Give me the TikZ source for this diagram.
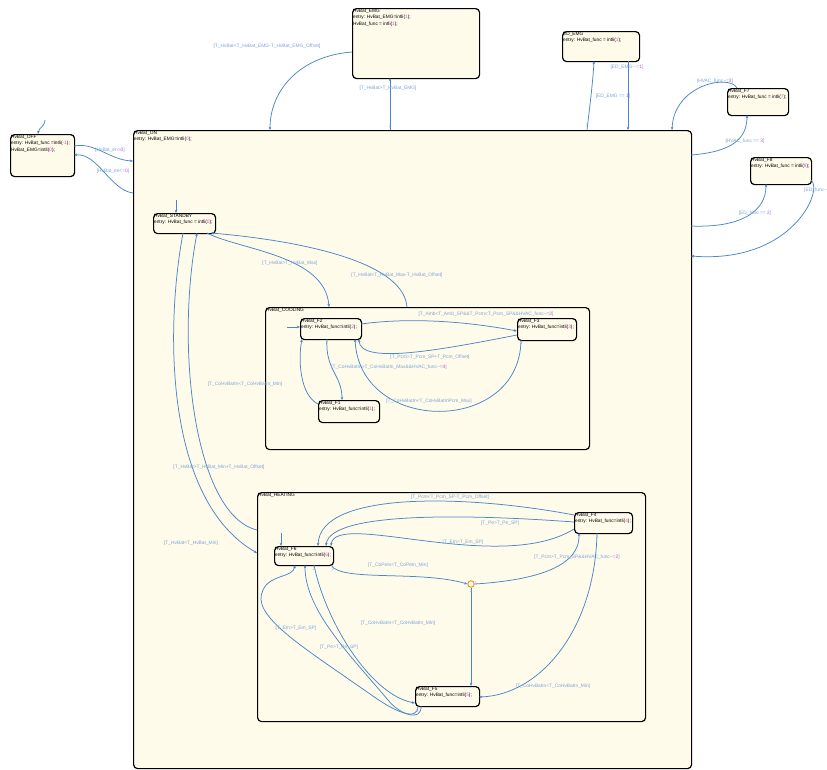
\documentclass[tikz,border=0pt]{standalone}
\usepackage{fontspec}
\setmainfont{Liberation Sans}
\usetikzlibrary{arrows.meta,calc}
\definecolor{stfill}{HTML}{FFFBEA}
\definecolor{trline}{HTML}{4A86C8}
\definecolor{trlab}{HTML}{7AA4DC}
\definecolor{mgc}{HTML}{E040E0}
\definecolor{jnc}{HTML}{E08A10}
\newcommand\mg[1]{\textcolor{mgc}{#1}}
\newcommand\tl{\textasciitilde}
\tikzset{
 statebox/.style={draw=black, fill=stfill, rounded corners=4pt, line width=1.2pt, inner sep=0pt, anchor=north west},
 stext/.style={anchor=north west, align=left, inner sep=0.9pt, font=\fontsize{4.8}{6.3}\selectfont, text=black},
 tr/.style={draw=trline, line width=0.75pt, -{Stealth[length=3.2pt,width=2.6pt]}},
 tlab/.style={font=\fontsize{4.85}{5.5}\selectfont, text=trlab, inner sep=0pt},
 onum/.style={font=\fontsize{4}{4}\selectfont, text=trlab, inner sep=0pt},
 junc/.style={circle, draw=jnc, fill=stfill, line width=0.8pt, minimum size=6.5pt, inner sep=0pt},
}
\begin{document}
\begin{tikzpicture}[x=1pt,y=-1pt]
\fill[white] (0,0) rectangle (827,769);
\useasboundingbox (0,0) rectangle (827,769);

% ---------- states ----------
\node[statebox, minimum width=558pt, minimum height=638pt] (on) at (133,130) {};
\node[stext] (ont) at (on.north west) {HvBat\_ON\\entry: HvBat\_EMG=intli(\mg{0});};

\node[statebox, minimum width=64pt, minimum height=42pt] (off) at (10,134) {};
\node[stext] (offt) at (off.north west) {HvBat\_OFF\\entry: HvBat\_func =intli(\mg{-1});\\ HvBat\_EMG=intli(\mg{0});};

\node[statebox, minimum width=127pt, minimum height=70pt] (emg) at (352,8) {};
\node[stext] (emgt) at (emg.north west) {HvBat\_EMG\\entry: HvBat\_EMG=intli(\mg{1});\\ HvBat\_func = intli(\mg{1});};

\node[statebox, minimum width=77pt, minimum height=30pt] (ed) at (562,31) {};
\node[stext] (edt) at (ed.north west) {ED\_EMG\\entry: HvBat\_func = intli(\mg{1});};

\node[statebox, minimum width=61pt, minimum height=27pt] (f7) at (727,88) {};
\node[stext] (f7t) at (f7.north west) {HvBat\_F7\\entry: HvBat\_func = intli(\mg{7});};

\node[statebox, minimum width=61pt, minimum height=27pt] (f8) at (750,157) {};
\node[stext] (f8t) at (f8.north west) {HvBat\_F8\\entry: HvBat\_func = intli(\mg{8});};

\node[statebox, minimum width=62pt, minimum height=20pt] (sb) at (153,213) {};
\node[stext] (sbt) at (sb.north west) {HvBat\_STANDBY\\entry: HvBat\_func = intli(\mg{0});};

\node[statebox, minimum width=324pt, minimum height=142pt] (cool) at (265,307) {};
\node[stext] (coolt) at (cool.north west) {HvBat\_COOLING};

\node[statebox, minimum width=61pt, minimum height=21pt] (f2) at (300,318) {};
\node[stext] (f2t) at (f2.north west) {HvBat\_F2\\entry: HvBat\_func=intli(\mg{2});};

\node[statebox, minimum width=59pt, minimum height=22pt] (f3) at (517,318) {};
\node[stext] (f3t) at (f3.north west) {HvBat\_F3\\entry: HvBat\_func=intli(\mg{3});};

\node[statebox, minimum width=61pt, minimum height=22pt] (f1) at (318,400) {};
\node[stext] (f1t) at (f1.north west) {HvBat\_F1\\entry: HvBat\_func=intli(\mg{1});};

\node[statebox, minimum width=388pt, minimum height=229pt] (heat) at (257,492) {};
\node[stext] (heatt) at (heat.north west) {HvBat\_HEATING};

\node[statebox, minimum width=58pt, minimum height=21pt] (f4) at (574,512) {};
\node[stext] (f4t) at (f4.north west) {HvBat\_F4\\entry: HvBat\_func=intli(\mg{4});};

\node[statebox, minimum width=59pt, minimum height=19pt] (f6) at (274,546) {};
\node[stext] (f6t) at (f6.north west) {HvBat\_F6\\entry: HvBat\_func=intli(\mg{6});};

\node[statebox, minimum width=64pt, minimum height=20pt] (f5) at (415,686) {};
\node[stext] (f5t) at (f5.north west) {HvBat\_F5\\entry: HvBat\_func=intli(\mg{5});};

\node[junc] (j) at (471,584) {};

% ---------- default transitions ----------
\coordinate (d0) at (45,120);
\coordinate (d1) at (176,200);
\coordinate (d2) at (287,327);
\coordinate (d3) at (281,533);
\draw[tr] (d0) .. controls (44,128) and (39,127) .. ($(off.north west)+(28,0)$);
\draw[tr] (d1) -- ($(sb.north west)+(23,0)$);
\draw[tr] (d2) -- ($(f2.north west)+(0,9)$);
\draw[tr] (d3) -- ($(f6.north west)+(7,0)$);

% ---------- top level ----------
\draw[tr] ($(off.north west)+(64,12)$) .. controls (95,142) and (110,160) .. ($(on.north west)+(0,31)$);
\node[tlab] (l1) at (110,150) {[HvBat\_en>\mg{0}]};
\draw[tr] ($(on.north west)+(0,63)$) .. controls (110,190) and (98,153) .. ($(off.north west)+(64,21)$);
\node[tlab] (l2) at (113,171) {[HvBat\_en<=\mg{0}]};

\draw[tr] ($(on.north west)+(257,0)$) -- ($(emg.north west)+(38,70)$);
\node[tlab] (l3) at (388,88) {[T\_HvBat>T\_HvBat\_EMG]};
\node[onum] (n3) at (390,126) {2};
\draw[tr] ($(emg.north west)+(0,44)$) .. controls (300,56) and (270,90) .. ($(on.north west)+(137,0)$);
\node[tlab] (l4) at (267,46) {[T\_HvBat<T\_HvBat\_EMG-T\_HvBat\_EMG\_Offset]};

\draw[tr] ($(on.north west)+(454,0)$) .. controls (590,105) and (593,80) .. ($(ed.north west)+(32,30)$);
\node[tlab] (l5) at (613,96) {[ED\_EMG == \mg{1}]};
\node[onum] (n5) at (587,125) {3};
\draw[tr] ($(ed.north west)+(66,30)$) -- ($(on.north west)+(495,0)$);
\node[tlab] (l6) at (627,67) {[ED\_EMG \tl=\mg{1}]};

\draw[tr] ($(f7.north west)+(10,0)$) .. controls (730,74) and (674,84) .. ($(on.north west)+(539,0)$);
\node[tlab] (l7) at (715,81) {[HVAC\_func\tl=\mg{3}]};
\draw[tr] ($(on.north west)+(558,25)$) .. controls (730,152) and (747,140) .. ($(f7.north west)+(20,27)$);
\node[tlab] (l8) at (745,141) {[HVAC\_func == \mg{3}]};

\draw[tr] ($(on.north west)+(558,96)$) .. controls (740,228) and (766,212) .. ($(f8.north west)+(16,27)$);
\node[tlab] (l9) at (755,213) {[ED\_func == \mg{2}]};
\draw[tr] ($(f8.north west)+(61,23)$) .. controls (824,190) and (792,264) .. ($(on.north west)+(558,126)$);
\node[tlab, anchor=west] (l10) at (804,190) {[ED\_func\tl=\mg{2}]};

% ---------- inside ON ----------
\draw[tr] ($(sb.north west)+(54,20)$) .. controls (240,250) and (325,255) .. ($(cool.north west)+(64,0)$);
\node[tlab] (l11) at (290,263) {[T\_HvBat>T\_HvBat\_Max]};
\draw[tr] ($(cool.north west)+(142,0)$) .. controls (403,255) and (270,238) .. ($(sb.north west)+(58,20)$);
\node[tlab] (l12) at (397,275) {[T\_HvBat<T\_HvBat\_Max-T\_HvBat\_Offset]};

\draw[tr] ($(sb.north west)+(30,20)$) .. controls (165,330) and (165,500) .. ($(heat.north west)+(0,61)$);
\node[tlab] (l13) at (191,543) {[T\_HvBat<T\_HvBat\_Min]};
\draw[tr] ($(heat.north west)+(0,38)$) .. controls (195,515) and (175,350) .. ($(sb.north west)+(44,20)$);
\node[tlab] (l14) at (219,467) {[T\_HvBat>T\_HvBat\_Min+T\_HvBat\_Offset]};
\node[tlab] (l15) at (245,384) {[T\_CoHvBatIn<T\_CoHvBatIn\_Min]};

% ---------- COOLING ----------
\draw[tr] ($(f2.north west)+(61,6)$) .. controls (420,316) and (480,324) .. ($(f3.north west)+(0,13)$);
\node[tlab] (l16) at (486,314) {[T\_Amb<T\_Amb\_SP\&\&T\_Pcm<T\_Pcm\_SP\&\&HVAC\_func\tl=\mg{2}]};
\draw[tr] ($(f3.north west)+(0,17)$) .. controls (440,350) and (360,365) .. ($(f2.north west)+(59,21)$);
\node[tlab] (l17) at (430,357) {[T\_Pcm>T\_Pcm\_SP+T\_Pcm\_Offset]};
\draw[tr] ($(f2.north west)+(27,21)$) .. controls (325,370) and (342,375) .. ($(f1.north west)+(24,0)$);
\node[tlab] (l18) at (389,367) {[T\_CoHvBatIn>T\_CoHvBatIn\_Max\&\&HVAC\_func\tl=\mg{4}]};
\node[onum] (n18) at (327,343) {2};
\draw[tr] ($(f1.north west)+(0,4)$) .. controls (300,395) and (298,360) .. ($(f2.north west)+(2,21)$);
\draw[tr] ($(f3.north west)+(4,22)$) .. controls (520,435) and (360,435) .. ($(f2.north west)+(55,21)$);
\node[tlab] (l19) at (429,401) {[T\_CoHvBatIn<T\_CoHvBatInPcm\_Max]};
\node[onum] (n19) at (521,343) {3};

% ---------- HEATING ----------
\draw[tr] ($(f4.north west)+(0,3)$) .. controls (470,495) and (320,490) .. ($(f6.north west)+(44,0)$);
\node[tlab] (l20) at (450,497) {[T\_Pcm<T\_Pcm\_SP-T\_Pcm\_Offset]};
\draw[tr] ($(f4.north west)+(0,10)$) .. controls (480,515) and (330,510) .. ($(f6.north west)+(52,0)$);
\node[tlab] (l21) at (500,523) {[T\_Pe>T\_Pe\_SP]};
\draw[tr] ($(f4.north west)+(0,17)$) .. controls (500,575) and (335,510) .. ($(f6.north west)+(57,0)$);
\node[tlab] (l22) at (463,542) {[T\_Em>T\_Em\_SP]};

\draw[tr] ($(f6.north west)+(57,19)$) .. controls (340,582) and (420,570) .. (j.west);
\node[tlab] (l23) at (398,565) {[T\_CoPeIn<T\_CoPeIn\_Min]};
\node[onum] (n23) at (333,569) {1};
\draw[tr] (j.east) .. controls (540,580) and (580,565) .. ($(f4.north west)+(5,21)$);
\node[tlab] (l24) at (577,557) {[T\_Pcm>T\_Pcm\_SP\&\&HVAC\_func\tl=\mg{2}]};
\node[onum] (n24) at (476,583) {1};
\draw[tr] (j.south) -- ($(f5.north west)+(56,0)$);
\node[onum] (n25) at (471,591) {2};

\draw[tr] ($(f4.north west)+(23,21)$) .. controls (595,630) and (540,695) .. ($(f5.north west)+(64,11)$);
\node[tlab] (l26) at (553,686) {[T\_CoHvBatIn<T\_CoHvBatIn\_Min]};
\node[onum] (n26) at (597,537) {1};

\draw[tr] ($(f5.north west)+(3,20)$) .. controls (418,722) and (395,712) .. (370,694)
   .. controls (300,645) and (250,615) .. (263,590) .. controls (270,574) and (293,578) .. ($(f6.north west)+(21,19)$);
\node[tlab] (l27) at (296,628) {[T\_Em>T\_Em\_SP]};
\draw[tr] ($(f5.north west)+(6,20)$) .. controls (422,722) and (400,715) .. (388,700)
   .. controls (350,655) and (305,610) .. ($(f6.north west)+(31,19)$);
\node[tlab] (l28) at (339,647) {[T\_Pe>T\_Pe\_SP]};
\draw[tr] ($(f6.north west)+(40,19)$) .. controls (325,620) and (370,695) .. ($(f5.north west)+(0,17)$);
\node[tlab] (l29) at (398,623) {[T\_CoHvBatIn<T\_CoHvBatIn\_Min]};
\node[onum] (n29) at (314,569) {2};
\node[onum] (n30) at (417,711) {3};
\end{tikzpicture}
\end{document}
